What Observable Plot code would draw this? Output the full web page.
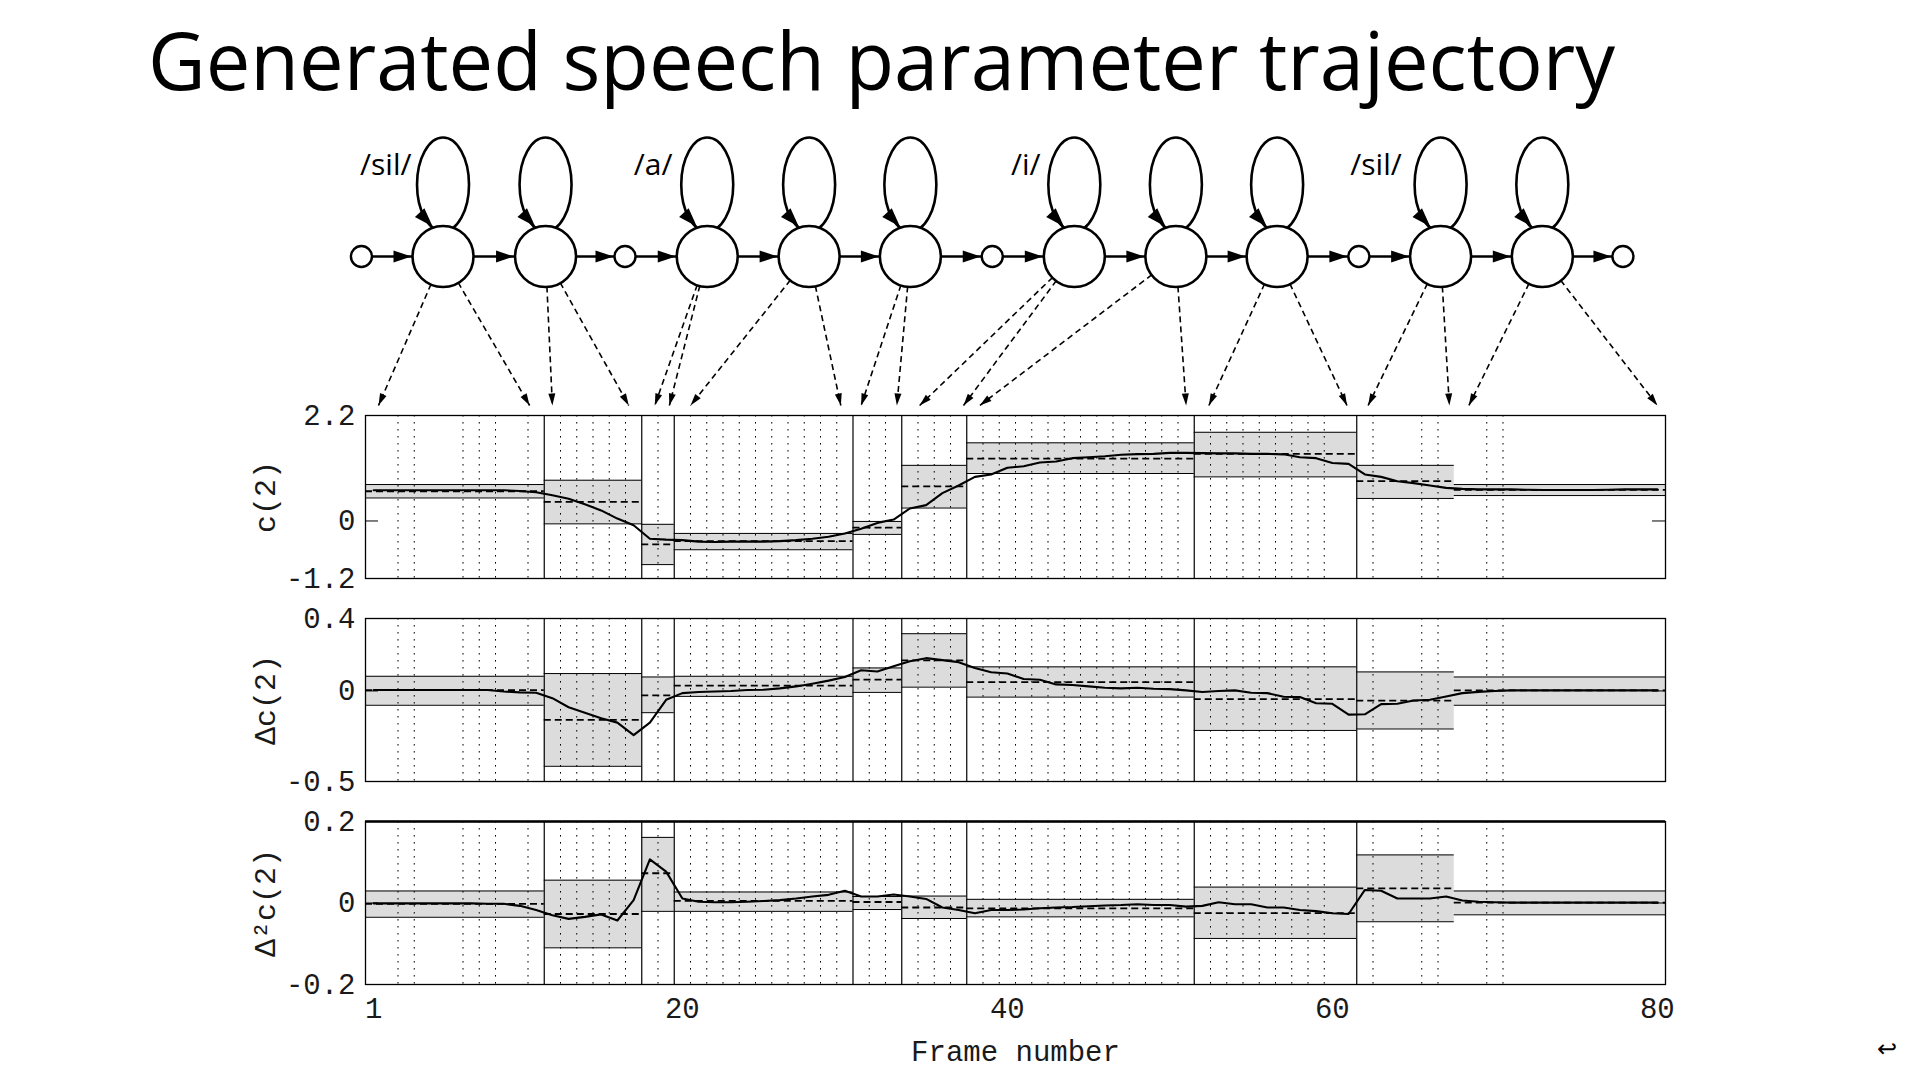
<!DOCTYPE html>
<html>
<head>
<meta charset="utf-8">
<script src="https://cdn.jsdelivr.net/npm/d3@7"></script>
<script src="https://cdn.jsdelivr.net/npm/@observablehq/plot@0.6"></script>
<style>
html, body { margin: 0; padding: 0; background: #fff; }
#page { position: relative; width: 1920px; height: 1080px; overflow: hidden; background: #fff; }
#title { position: absolute; left: 148px; top: 19px; font-family: "Open Sans", sans-serif; font-size: 80px; line-height: 80px; white-space: nowrap; transform-origin: 0 0; color: #000; }
#ret { position: absolute; left: 1877px; top: 1035px; font-family: "DejaVu Sans", sans-serif; font-size: 24px; color: #000; }
.slot { position: absolute; left: 0; }
</style>
</head>
<body>
<div id="page">
  <div id="title">Generated speech parameter trajectory</div>
  <div id="ret">↩</div>
</div>
<script>
// ------------------------- DATA -------------------------
const frames = d3.range(1, 81); // frame index 1..80

// HMM state segments (frame boundaries)
const stateNames = ["sil-1", "sil-2", "a-1", "a-2", "a-3", "i-1", "i-2", "i-3", "sil-1", "sil-2"];
const segStart = [0.5, 11.5, 17.5, 19.5, 30.5, 33.5, 37.5, 51.5, 61.5, 67.5];
const segEnd   = [11.5, 17.5, 19.5, 30.5, 33.5, 37.5, 51.5, 61.5, 67.5, 80.5];
const separators = [11.5, 17.5, 19.5, 30.5, 33.5, 37.5, 51.5, 61.5];
const dottedFrames = [2.5, 3.5, 6.5, 7.5, 8.5, 10.5, 12.5, 13.5, 14.5, 15.5, 16.5, 18.5,
  20.5, 21.5, 22.5, 23.5, 24.5, 25.5, 26.5, 27.5, 28.5, 29.5, 31.5, 32.5, 34.5, 35.5, 36.5,
  38.5, 39.5, 40.5, 41.5, 42.5, 43.5, 44.5, 45.5, 46.5, 47.5, 48.5, 49.5, 50.5,
  52.5, 53.5, 54.5, 55.5, 56.5, 57.5, 58.5, 59.5, 62.5, 65.5, 66.5, 69.5, 70.5];

// c(2) trajectory and state statistics
const c2 = [
  0.64, 0.64, 0.64, 0.64, 0.64, 0.64, 0.64, 0.64, 0.64, 0.625,
  0.60, 0.535, 0.465, 0.347, 0.22, 0.05, -0.09, -0.37, -0.39, -0.40,
  -0.43, -0.44, -0.43, -0.43, -0.43, -0.42, -0.40, -0.37, -0.33, -0.26,
  -0.16, -0.04, 0.03, 0.26, 0.33, 0.58, 0.74, 0.92, 0.97, 1.11,
  1.14, 1.22, 1.24, 1.31, 1.33, 1.35, 1.38, 1.395, 1.40, 1.42,
  1.42, 1.415, 1.41, 1.41, 1.40, 1.40, 1.39, 1.33, 1.31, 1.21,
  1.19, 0.97, 0.92, 0.83, 0.79, 0.74, 0.69, 0.67, 0.66, 0.66,
  0.66, 0.65, 0.645, 0.645, 0.645, 0.645, 0.65, 0.66, 0.66, 0.66];
const c2Mean = [0.62, 0.40, -0.49, -0.42, -0.14, 0.72, 1.30, 1.40, 0.83, 0.65];
const c2Hi   = [0.76, 0.85, -0.07, -0.26, -0.01, 1.16, 1.63, 1.85, 1.16, 0.76];
const c2Lo   = [0.48, -0.06, -0.91, -0.60, -0.28, 0.27, 0.99, 0.92, 0.47, 0.53];

// Δc(2)
const dc2 = [
  0.005, 0.005, 0.005, 0.005, 0.005, 0.005, 0.005, 0.005, -0.003, -0.008,
  -0.01, -0.04, -0.09, -0.12, -0.151, -0.175, -0.244, -0.175, -0.049, -0.012,
  -0.006, -0.003, 0.0, 0.005, 0.007, 0.014, 0.025, 0.04, 0.057, 0.077,
  0.114, 0.107, 0.136, 0.164, 0.181, 0.17, 0.159, 0.127, 0.103, 0.096,
  0.066, 0.062, 0.036, 0.033, 0.025, 0.018, 0.014, 0.018, 0.012, 0.01,
  0.003, -0.006, 0.0, 0.003, -0.01, -0.012, -0.032, -0.034, -0.068, -0.071,
  -0.131, -0.129, -0.073, -0.071, -0.053, -0.049, -0.031, -0.012, -0.005, 0.0,
  0.003, 0.003, 0.003, 0.003, 0.003, 0.003, 0.003, 0.003, 0.003, 0.003];
const dc2Mean = [0.005, -0.16, -0.025, 0.029, 0.062, 0.169, 0.049, -0.045, -0.053, 0.003];
const dc2Hi   = [0.081, 0.096, 0.077, 0.081, 0.127, 0.316, 0.133, 0.133, 0.105, 0.077];
const dc2Lo   = [-0.079, -0.416, -0.12, -0.03, -0.008, 0.021, -0.034, -0.218, -0.21, -0.079];

// Δ²c(2)
const d2c2 = [
  -0.001, -0.001, -0.001, -0.001, -0.001, -0.001, -0.001, -0.002, -0.002, -0.007,
  -0.017, -0.03, -0.039, -0.034, -0.028, -0.043, 0.007, 0.107, 0.077, 0.011,
  0.003, 0.002, 0.002, 0.003, 0.005, 0.007, 0.011, 0.016, 0.02, 0.03,
  0.016, 0.016, 0.021, 0.016, 0.01, -0.011, -0.017, -0.025, -0.017, -0.017,
  -0.016, -0.013, -0.011, -0.01, -0.008, -0.006, -0.005, -0.003, -0.005, -0.005,
  -0.009, -0.007, 0.002, -0.003, -0.003, -0.011, -0.011, -0.017, -0.02, -0.025,
  -0.027, 0.032, 0.03, 0.011, 0.011, 0.011, 0.016, 0.006, 0.003, 0.002,
  0.001, 0.001, 0.001, 0.001, 0.001, 0.001, 0.001, 0.001, 0.001, 0.001];
const d2c2Mean = [-0.002, -0.027, 0.073, 0.005, 0.0025, -0.011, -0.013, -0.025, 0.036, 0.001];
const d2c2Hi   = [0.0295, 0.056, 0.161, 0.027, 0.016, 0.017, 0.009, 0.039, 0.118, 0.0295];
const d2c2Lo   = [-0.035, -0.11, -0.0205, -0.0205, -0.016, -0.038, -0.034, -0.087, -0.046, -0.029];

// HMM diagram (positions on the frame axis)
const stateNodeX = [5.27, 11.58, 21.53, 27.8, 34.03, 44.12, 50.37, 56.6, 66.66, 72.92];
const junctionNodeX = [0.25, 16.47, 39.07, 61.63, 77.88];
const phoneLabels = ["/sil/", "/a/", "/i/", "/sil/"];
const phoneLabelEndX = [3.33, 19.39, 42.04, 64.27];
const arrowTips = [[1.3, 10.6], [12.0, 16.7], [18.3, 19.2], [20.5, 29.75], [31.0, 33.2],
                   [34.6, 37.3], [38.3, 51.0], [52.4, 60.9], [62.2, 67.2], [68.4, 80.0]];
const xTicks = [1, 20, 40, 60, 80];

// ------------------------- LAYOUT -------------------------
const W = 1920, ML = 365, MR = 255;
const X_DOMAIN = [0.5, 80.5];
const PX_PER_FRAME = (W - ML - MR) / (X_DOMAIN[1] - X_DOMAIN[0]);
const PANEL_H = 163;
const MONO = "'Liberation Mono', 'DejaVu Sans Mono', monospace";
const page = document.getElementById("page");

function place(svg, top) {
  const div = document.createElement("div");
  div.className = "slot";
  div.style.top = top + "px";
  div.appendChild(svg);
  page.appendChild(div);
}

function panel({values, mean, hi, lo, domain, label, top, last, thickTop}) {
  const mt = 15, mb = last ? 95 : 15;
  const boxes = segStart.map((s, i) => ({x1: s, x2: segEnd[i], mean: mean[i], hi: hi[i], lo: lo[i], name: stateNames[i]}));
  const traj = frames.map((f, i) => ({f, v: values[i]}));
  const marks = [
    Plot.rect(boxes, {x1: "x1", x2: "x2", y1: "lo", y2: "hi", fill: "#dcdcdc"}),
    Plot.ruleX(dottedFrames, {stroke: "#000", strokeWidth: 1, strokeDasharray: "1.6,5.4"}),
    Plot.ruleX(separators, {stroke: "#000", strokeWidth: 1.2}),
    Plot.ruleY(boxes, {x1: "x1", x2: "x2", y: "hi", stroke: "#000", strokeWidth: 1}),
    Plot.ruleY(boxes, {x1: "x1", x2: "x2", y: "lo", stroke: "#000", strokeWidth: 1}),
    Plot.ruleY(boxes, {x1: "x1", x2: "x2", y: "mean", stroke: "#000", strokeWidth: 1.8, strokeDasharray: "7,4"}),
    Plot.line(traj, {x: "f", y: "v", stroke: "#000", strokeWidth: 2.1}),
    Plot.ruleY([0], {x1: X_DOMAIN[0], x2: X_DOMAIN[0] + 0.8, stroke: "#000", strokeWidth: 1}),
    Plot.ruleY([0], {x1: X_DOMAIN[1] - 0.8, x2: X_DOMAIN[1], stroke: "#000", strokeWidth: 1}),
    Plot.frame({stroke: "#000", strokeWidth: 1.3}),
    Plot.axisY({ticks: [domain[0], 0, domain[1]], tickSize: 0, tickPadding: 10, tickFormat: d => String(d)}),
    Plot.text([label], {text: d => d, frameAnchor: "left", textAnchor: "middle", lineAnchor: "middle",
      dx: -100, rotate: -90, fontSize: 30, fontFamily: MONO})
  ];
  if (thickTop) marks.push(Plot.ruleY([domain[1]], {stroke: "#000", strokeWidth: 2.6}));
  if (last) {
    marks.push(Plot.axisX({ticks: xTicks, tickSize: 0, tickPadding: 13, tickFormat: d => String(d)}));
    marks.push(Plot.text(["Frame number"], {text: d => d, frameAnchor: "bottom", textAnchor: "middle", dy: 67,
      lineAnchor: "middle", fontSize: 29, fontFamily: MONO}));
  }
  const svg = Plot.plot({
    width: W, height: mt + PANEL_H + mb,
    marginLeft: ML, marginRight: MR, marginTop: mt, marginBottom: mb,
    x: {domain: X_DOMAIN, axis: null, label: null},
    y: {domain, axis: null, label: null},
    style: {background: "transparent", fontFamily: MONO, fontSize: "29px", color: "#1a1a1a", overflow: "visible"},
    marks
  });
  place(svg, top - mt);
}

panel({values: c2, mean: c2Mean, hi: c2Hi, lo: c2Lo, domain: [-1.2, 2.2], label: "c(2)", top: 415});
panel({values: dc2, mean: dc2Mean, hi: dc2Hi, lo: dc2Lo, domain: [-0.5, 0.4], label: "Δc(2)", top: 618});
panel({values: d2c2, mean: d2c2Mean, hi: d2c2Hi, lo: d2c2Lo, domain: [-0.2, 0.2], label: "Δ²c(2)", top: 821, last: true, thickTop: true});

// ------------------------- HMM DIAGRAM -------------------------
const DIAG_TOP = 100, DIAG_H = 320;
const CHAIN_Y = 256, TIP_Y = 405, LABEL_Y = 165;
const R_BIG = 30.5, R_SMALL = 10.5;

const loopSymbol = {
  draw(ctx) {
    const cx = 0, cy = -72, rx = 26, ry = 47, k = 0.5523;
    ctx.moveTo(cx + rx, cy);
    ctx.bezierCurveTo(cx + rx, cy + k * ry, cx + k * rx, cy + ry, cx, cy + ry);
    ctx.bezierCurveTo(cx - k * rx, cy + ry, cx - rx, cy + k * ry, cx - rx, cy);
    ctx.bezierCurveTo(cx - rx, cy - k * ry, cx - k * rx, cy - ry, cx, cy - ry);
    ctx.bezierCurveTo(cx + k * rx, cy - ry, cx + rx, cy - k * ry, cx + rx, cy);
    ctx.closePath();
  }
};
function headSymbol(L, w) {
  return { draw(ctx) { ctx.moveTo(0, 0); ctx.lineTo(-w / 2, L); ctx.lineTo(w / 2, L); ctx.closePath(); } };
}

const chainNodes = [...stateNodeX.map(x => ({x, big: true})), ...junctionNodeX.map(x => ({x, big: false}))]
  .sort((a, b) => a.x - b.x);
const chainLinks = chainNodes.slice(1).map((n, i) => ({x1: chainNodes[i].x, x2: n.x, big: n.big}));
const emissions = arrowTips.flatMap((tips, i) => tips.map(t => ({
  x1: stateNodeX[i], x2: t,
  angle: Math.atan2((t - stateNodeX[i]) * PX_PER_FRAME, -(TIP_Y - CHAIN_Y)) * 180 / Math.PI
})));

const diag = Plot.plot({
  width: W, height: DIAG_H, marginLeft: ML, marginRight: MR, marginTop: 0, marginBottom: 0,
  x: {domain: X_DOMAIN, axis: null, label: null},
  y: {domain: [DIAG_TOP, DIAG_TOP + DIAG_H], range: [0, DIAG_H], axis: null, label: null},
  style: {background: "transparent", overflow: "visible"},
  marks: [
    Plot.link(chainLinks, {x1: "x1", x2: "x2", y1: CHAIN_Y, y2: CHAIN_Y, stroke: "#000", strokeWidth: 2.4}),
    Plot.link(emissions, {x1: "x1", x2: "x2", y1: CHAIN_Y, y2: TIP_Y, stroke: "#000", strokeWidth: 1.6, strokeDasharray: "6,4"}),
    Plot.dot(stateNodeX, {x: d => d, y: CHAIN_Y, symbol: loopSymbol, fill: "none", stroke: "#000", strokeWidth: 2.6}),
    Plot.dot(stateNodeX, {x: d => d, y: CHAIN_Y, r: R_BIG, fill: "#fff", stroke: "#000", strokeWidth: 2.6}),
    Plot.dot(junctionNodeX, {x: d => d, y: CHAIN_Y, r: R_SMALL, fill: "#fff", stroke: "#000", strokeWidth: 2.4}),
    Plot.dot(chainLinks.filter(d => d.big), {x: "x2", y: CHAIN_Y, dx: -(R_BIG + 1), rotate: 90, symbol: headSymbol(18, 12), fill: "#000", stroke: "none"}),
    Plot.dot(chainLinks.filter(d => !d.big), {x: "x2", y: CHAIN_Y, dx: -(R_SMALL + 1), rotate: 90, symbol: headSymbol(18, 12), fill: "#000", stroke: "none"}),
    Plot.dot(stateNodeX, {x: d => d, y: CHAIN_Y, dx: -10.4, dy: -30, rotate: 137, symbol: headSymbol(19, 13), fill: "#000", stroke: "none"}),
    Plot.dot(emissions, {x: "x2", y: TIP_Y, rotate: "angle", symbol: headSymbol(12, 7), fill: "#000", stroke: "none"}),
    Plot.text(phoneLabels, {x: (d, i) => phoneLabelEndX[i], y: LABEL_Y, text: d => d, textAnchor: "end",
      fontSize: 30, fontFamily: "'Open Sans', sans-serif", fill: "#000"})
  ]
});
place(diag, DIAG_TOP);

// Fit the title to the width of the reference heading
const title = document.getElementById("title");
const tw = title.getBoundingClientRect().width;
title.style.transform = `scaleX(${1467 / tw})`;
</script>
</body>
</html>
